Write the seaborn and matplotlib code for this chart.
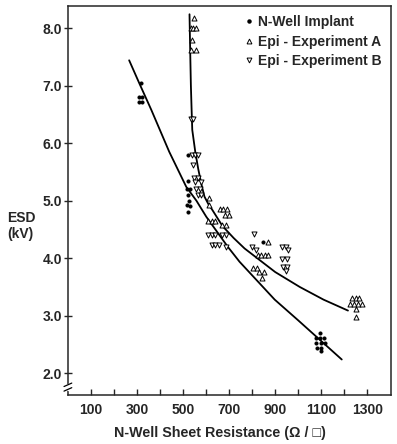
"""ESD vs N-well sheet resistance, recreated with seaborn."""

import matplotlib
matplotlib.use("Agg")
import numpy as np
import pandas as pd
import matplotlib.pyplot as plt
import seaborn as sns
from matplotlib.lines import Line2D

# --- data ------------------------------------------------------------------
nwell_x = [318, 310, 323, 310, 323, 520, 520, 515, 530, 520, 525, 515, 530, 520,
           846, 1094, 1076, 1094, 1111, 1076, 1098, 1115, 1080, 1098, 1098]
nwell_y = [7.05, 6.80, 6.80, 6.72, 6.72, 5.80, 5.35, 5.20, 5.20, 5.10, 5.00, 4.92,
           4.90, 4.80, 4.28, 2.70, 2.62, 2.62, 2.62, 2.53, 2.53, 2.52, 2.44, 2.44, 2.38]

epi_a_x = [549, 536, 545, 555, 541, 536, 556, 614, 612, 660, 675, 690, 680, 700,
           610, 625, 640, 670, 685, 867, 825, 840, 855, 867, 805, 820, 830, 850, 841,
           1233, 1250, 1266, 1224, 1240, 1258, 1276, 1250, 1250]
epi_a_y = [8.17, 8.00, 8.00, 8.00, 7.80, 7.62, 7.62, 5.05, 4.93, 4.85, 4.85, 4.85,
           4.75, 4.75, 4.65, 4.65, 4.65, 4.58, 4.58, 4.29, 4.06, 4.06, 4.06, 4.06,
           3.83, 3.83, 3.76, 3.76, 3.66, 3.30, 3.30, 3.30, 3.20, 3.20, 3.20, 3.20,
           3.12, 2.98]

epi_b_x = [536, 545, 540, 552, 563, 545, 547, 552, 565, 578, 556, 572, 565, 580,
           610, 625, 640, 670, 685, 625, 640, 655, 688, 810, 800, 815, 930, 945, 955,
           930, 950, 935, 950, 945]
epi_b_y = [6.42, 6.42, 5.80, 5.80, 5.80, 5.62, 5.40, 5.33, 5.40, 5.33, 5.20, 5.20,
           5.10, 5.10, 4.40, 4.40, 4.40, 4.40, 4.40, 4.23, 4.23, 4.23, 4.20, 4.42,
           4.20, 4.15, 4.20, 4.20, 4.15, 3.98, 3.98, 3.85, 3.85, 3.78]

# hand-drawn fit curves
fit_nwell_x = [266, 309, 362, 440, 514, 558, 601, 694, 745, 898, 1000, 1100, 1189]
fit_nwell_y = [7.44, 7.05, 6.58, 5.85, 5.24, 5.00, 4.72, 4.20, 3.94, 3.28, 2.92, 2.56, 2.24]

fit_epi_x = [528, 531, 534, 537, 540, 553, 566, 580, 593, 610, 627, 671, 720, 767,
             900, 1007, 1110, 1216]
fit_epi_y = [8.24, 7.60, 7.00, 6.60, 6.23, 5.85, 5.55, 5.28, 5.07, 4.94, 4.84, 4.56,
             4.35, 4.17, 3.76, 3.50, 3.28, 3.09]

labels = ["N-Well Implant", "Epi - Experiment A", "Epi - Experiment B"]
x_major = [100, 300, 500, 700, 900, 1100, 1300]
x_minor = [200, 400, 600, 800, 1000, 1200]
y_ticks = [2.0, 3.0, 4.0, 5.0, 6.0, 7.0, 8.0]

# --- style -----------------------------------------------------------------
sns.set_style("ticks")
plt.rcParams["font.family"] = ["Liberation Sans", "DejaVu Sans"]
plt.rcParams["font.weight"] = "bold"
plt.rcParams["axes.linewidth"] = 1.1

fig = plt.figure(figsize=(3.97, 4.44), dpi=100)
ax = fig.add_axes([0.171, 0.110, 0.814, 0.876])

pts = pd.concat([
    pd.DataFrame({"r": nwell_x, "esd": nwell_y, "kind": labels[0]}),
    pd.DataFrame({"r": epi_a_x, "esd": epi_a_y, "kind": labels[1]}),
    pd.DataFrame({"r": epi_b_x, "esd": epi_b_y, "kind": labels[2]}),
])
fits = pd.concat([
    pd.DataFrame({"r": fit_nwell_x, "esd": fit_nwell_y, "curve": "nwell"}),
    pd.DataFrame({"r": fit_epi_x, "esd": fit_epi_y, "curve": "epi"}),
])

sns.lineplot(data=fits, x="r", y="esd", units="curve", estimator=None, sort=False,
             color="black", lw=1.3, ax=ax, zorder=2, legend=False)

marker_map = {labels[0]: "o", labels[1]: "^", labels[2]: "v"}
for kind, sub in pts.groupby("kind"):
    filled = kind == labels[0]
    sns.scatterplot(data=sub, x="r", y="esd", marker=marker_map[kind],
                    s=5 if filled else 13,
                    color="black" if filled else "white",
                    edgecolor="black", linewidth=0.7, ax=ax, zorder=3, legend=False)

ax.set_xlim(0, 1403)
ax.set_ylim(1.62, 8.38)
ax.set_xticks(x_major)
ax.set_xticks(x_minor, minor=True)
ax.set_yticks(y_ticks)
ax.set_yticklabels([f"{v:.1f}" for v in y_ticks])
ax.tick_params(axis="x", which="both", direction="in", length=4, width=1.0,
               labelsize=10, pad=6)
ax.tick_params(axis="y", direction="inout", length=6, width=1.0, labelsize=10, pad=1)
for lab in ax.get_xticklabels() + ax.get_yticklabels():
    lab.set_fontweight("bold")

ax.set_xlabel("N-Well Sheet Resistance (\u03a9 / \u25a1)", fontsize=10.3,
              fontweight="bold", va="center")
ax.xaxis.set_label_coords(0.47, -0.098)
ax.set_ylabel("ESD\n(kV)", fontsize=10, fontweight="bold", rotation=0,
              ha="center", va="center", multialignment="left")
ax.yaxis.set_label_coords(-0.145, 0.435)

# axis break marks on the y spine
tr = ax.get_yaxis_transform()
ax.plot([0, 0], [1.72, 1.80], transform=tr, color="white", lw=2.5,
        clip_on=False, zorder=5)
for yb in (1.72, 1.80):
    ax.plot([-0.012, 0.012], [yb - 0.03, yb + 0.03], transform=tr, color="black",
            lw=0.9, clip_on=False, zorder=6)

handles = [
    Line2D([], [], ls="none", marker="o", ms=2.2, mfc="black", mec="black"),
    Line2D([], [], ls="none", marker="^", ms=3.5, mfc="white", mec="black", mew=0.7),
    Line2D([], [], ls="none", marker="v", ms=3.5, mfc="white", mec="black", mew=0.7),
]
leg = ax.legend(handles, labels, loc="upper right", bbox_to_anchor=(1.0, 1.0),
                frameon=False, handlelength=0.6, handletextpad=0.35,
                labelspacing=0.38, borderaxespad=0.25,
                prop={"size": 10, "weight": "bold"})

fig.savefig("out.png", dpi=100)
